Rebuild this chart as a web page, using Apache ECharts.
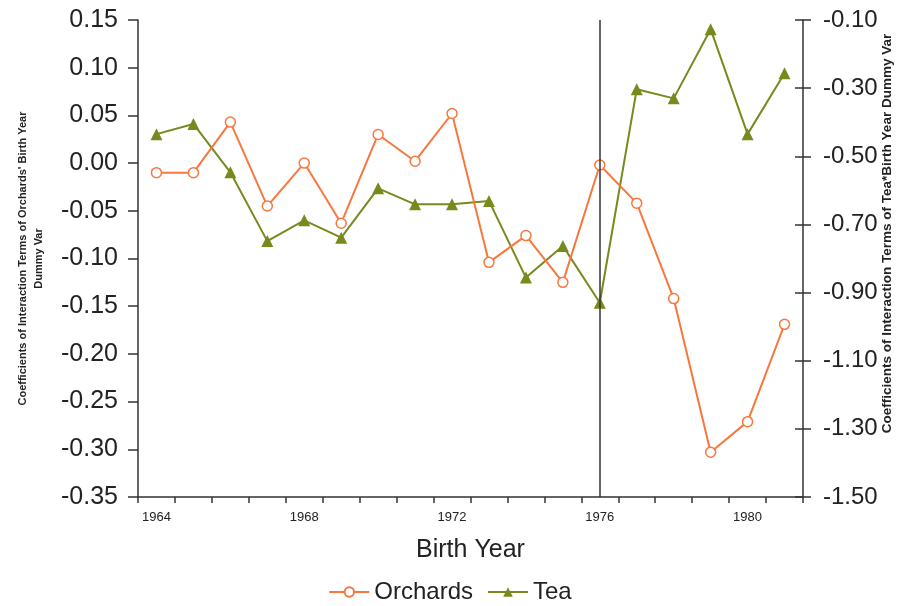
<!DOCTYPE html>
<html>
<head>
<meta charset="utf-8">
<script src="https://cdn.jsdelivr.net/npm/echarts@6/dist/echarts.min.js"></script>
<style>
  html, body { margin: 0; padding: 0; background: #fff; }
  #chart { width: 900px; height: 606px; }
</style>
</head>
<body>
<div id="chart"></div>
<script>
// Birth-year dummy interaction coefficients
const years = ['1964','1965','1966','1967','1968','1969','1970','1971','1972',
               '1973','1974','1975','1976','1977','1978','1979','1980','1981'];
const orchards = [-0.010, -0.010, 0.043, -0.045, 0.000, -0.063, 0.030, 0.002, 0.052,
                  -0.104, -0.076, -0.125, -0.002, -0.042, -0.142, -0.303, -0.271, -0.169];
const tea = [-0.435, -0.405, -0.547, -0.749, -0.688, -0.739, -0.594, -0.641, -0.641,
             -0.631, -0.856, -0.763, -0.930, -0.303, -0.330, -0.127, -0.435, -0.256];
const cutoffYear = '1976';

const leftName = "Coefficients of Interaction Terms of Orchards' Birth Year\nDummy Var";
const rightName = 'Coefficients of Interaction Terms of Tea*Birth Year Dummy Var';

const ORANGE = '#F8773D';
const OLIVE = '#768A1E';
const INK = '#222';
const FONT = '"Liberation Sans", Arial, sans-serif';

const chart = echarts.init(document.getElementById('chart'));

const axisLineStyle = { color: '#333', width: 1.5 };

chart.setOption({
  animation: false,
  textStyle: { fontFamily: FONT, color: INK },
  grid: { left: 138, right: 97, top: 20, bottom: 109, outerBoundsMode: 'none', containLabel: false },
  legend: {
    bottom: -3,
    left: 'center',
    itemWidth: 40,
    itemHeight: 12,
    itemGap: 14,
    textStyle: { fontSize: 24, color: INK, fontFamily: FONT },
    data: ['Orchards', 'Tea']
  },
  xAxis: {
    type: 'category',
    data: years,
    boundaryGap: true,
    axisLine: { show: true, onZero: false, lineStyle: axisLineStyle },
    axisTick: { show: true, interval: 0, length: 6, lineStyle: axisLineStyle },
    axisLabel: { interval: 3, fontSize: 13, color: INK, margin: 14 },
    splitLine: { show: false },
    name: 'Birth Year',
    nameLocation: 'middle',
    nameGap: 41,
    nameTextStyle: { fontSize: 25, color: INK }
  },
  yAxis: [
    {
      type: 'value',
      position: 'left',
      min: -0.35, max: 0.15, interval: 0.05,
      axisLine: { show: true, lineStyle: axisLineStyle },
      axisTick: { show: true, length: 10, lineStyle: axisLineStyle },
      axisLabel: { fontSize: 25, color: INK, margin: 20, formatter: v => v.toFixed(2) },
      splitLine: { show: false },
      name: leftName,
      nameLocation: 'middle',
      nameRotate: 90,
      nameGap: 91,
      nameMoveOverlap: false,
      nameTextStyle: { fontSize: 11, fontWeight: 'bold', color: INK, lineHeight: 16, align: 'center' }
    },
    {
      type: 'value',
      position: 'right',
      min: -1.5, max: -0.1, interval: 0.2,
      axisLine: { show: true, lineStyle: axisLineStyle },
      axisTick: { show: true, length: 8, lineStyle: axisLineStyle },
      axisLabel: { fontSize: 24, color: INK, margin: 20, formatter: v => v.toFixed(2) },
      splitLine: { show: false },
      name: rightName,
      nameLocation: 'middle',
      nameRotate: 90,
      nameGap: 77,
      nameMoveOverlap: false,
      nameTextStyle: { fontSize: 13.5, fontWeight: 'bold', color: INK, padding: [0, 0, 0, 50] }
    },
    {
      // inner half of the crossing ticks on the right axis
      type: 'value',
      position: 'right',
      min: -1.5, max: -0.1, interval: 0.2,
      axisLine: { show: false },
      axisTick: { show: true, inside: true, length: 8, lineStyle: axisLineStyle },
      axisLabel: { show: false },
      splitLine: { show: false }
    }
  ],
  series: [
    {
      name: 'Orchards',
      type: 'line',
      yAxisIndex: 0,
      data: orchards,
      symbol: 'circle',
      symbolSize: 10,
      lineStyle: { color: ORANGE, width: 2 },
      itemStyle: { color: '#fff', borderColor: ORANGE, borderWidth: 1.5 },
      z: 3,
      markLine: {
        silent: true,
        symbol: 'none',
        label: { show: false },
        lineStyle: { color: '#333', width: 1.5, type: 'solid' },
        data: [{ xAxis: cutoffYear }]
      }
    },
    {
      name: 'Tea',
      type: 'line',
      yAxisIndex: 1,
      data: tea,
      symbol: 'triangle',
      symbolSize: 12,
      lineStyle: { color: OLIVE, width: 2 },
      itemStyle: { color: OLIVE },
      z: 2
    }
  ]
});
</script>
</body>
</html>
